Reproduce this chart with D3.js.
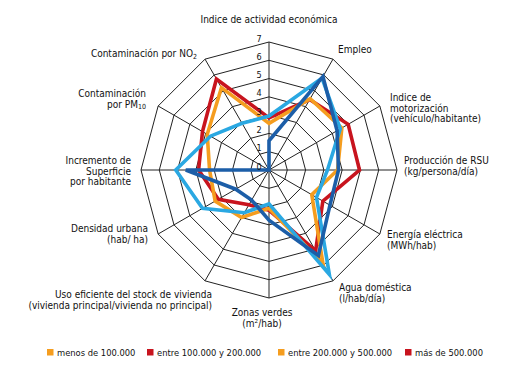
<!DOCTYPE html>
<html>
<head>
<meta charset="utf-8">
<script src="https://cdn.jsdelivr.net/npm/d3@7"></script>
<style>
  body { margin: 0; background: #fff; }
  svg text { font-family: "DejaVu Sans Condensed", "Liberation Sans", sans-serif; fill: #111; }
</style>
</head>
<body>
<div id="chart"></div>
<script>
// ejes del radar, en sentido horario desde arriba
const axisLabels = [
  ["Indice de actividad económica"],
  ["Empleo"],
  ["Indice de", "motorización", "(vehículo/habitante)"],
  ["Producción de RSU", "(kg/persona/día)"],
  ["Energía eléctrica", "(MWh/hab)"],
  ["Agua doméstica", "(l/hab/día)"],
  ["Zonas verdes", "(m²/hab)"],
  ["Uso eficiente del stock de vivienda", "(vivienda principal/vivienda no principal)"],
  ["Densidad urbana", "(hab/ ha)"],
  ["Incremento de", "Superficie", "por habitante"],
  ["Contaminación", "por PM|10"],
  ["Contaminación por NO|2"]
];

const ticks = [0, 1, 2, 3, 4, 5, 6, 7];

const seriesNames = ["menos de 100.000", "entre 100.000 y 200.000", "entre 200.000 y 500.000", "más de 500.000"];

// valores (escala 0-7)
const menos100 = [2.55, 4.5, 4.6, 3.75, 2.7, 5.9, 2.1, 3.0, 3.4, 3.25, 3.9, 5.2];
const entre100y200 = [2.85, 4.45, 5.0, 4.95, 3.4, 5.1, 2.2, 2.2, 3.2, 3.85, 4.2, 5.75];
const entre200y500 = [2.95, 5.8, 4.5, 3.2, 3.0, 6.6, 1.85, 2.7, 4.2, 5.1, 3.7, 2.95];
const mas500 = [1.6, 5.9, 4.3, 3.8, 3.85, 5.4, 2.75, 1.9, 2.1, 4.55, 0, 0];

const lineColors = ["#f59d1f", "#c8141e", "#2aa8e2", "#1c5ea8"];
// la leyenda original muestra estos colores
const legendColors = ["#f59d1f", "#c8141e", "#f59d1f", "#c8141e"];

const width = 517, height = 365;
const cx = 269, cy = 170, R = 128;

const svg = d3.select("#chart").append("svg")
  .attr("width", width)
  .attr("height", height);

const r = d3.scaleLinear().domain([0, 7]).range([0, R]);
const angle = d3.scaleLinear().domain([0, axisLabels.length]).range([0, 2 * Math.PI]);

const pt = (i, v) => [
  cx + r(v) * Math.sin(angle(i)),
  cy - r(v) * Math.cos(angle(i))
];

const g = svg.append("g");

// anillos (polígonos de 12 lados)
const ring = d3.line();
g.selectAll("path.ring")
  .data(ticks.slice(1))
  .join("path")
  .attr("class", "ring")
  .attr("d", t => ring(axisLabels.map((_, i) => pt(i, t))) + "Z")
  .attr("fill", "none")
  .attr("stroke", "#222")
  .attr("stroke-width", 1);

// radios
g.selectAll("line.spoke")
  .data(axisLabels)
  .join("line")
  .attr("class", "spoke")
  .attr("x1", cx).attr("y1", cy)
  .attr("x2", (d, i) => pt(i, 7)[0])
  .attr("y2", (d, i) => pt(i, 7)[1])
  .attr("stroke", "#222")
  .attr("stroke-width", 1);

// series
const allSeries = [entre100y200, menos100, entre200y500, mas500];
const seriesColor = [lineColors[1], lineColors[0], lineColors[2], lineColors[3]];
const radar = d3.line().curve(d3.curveLinearClosed);

g.selectAll("path.serie")
  .data(allSeries)
  .join("path")
  .attr("class", "serie")
  .attr("d", vals => radar(vals.map((v, i) => pt(i, v))))
  .attr("fill", "none")
  .attr("stroke", (d, k) => seriesColor[k])
  .attr("stroke-width", 3.6)
  .attr("stroke-linejoin", "miter");

// números de la escala
g.selectAll("text.tick")
  .data(ticks)
  .join("text")
  .attr("class", "tick")
  .attr("x", cx - 10)
  .attr("y", t => cy - r(t) - 0.5)
  .attr("text-anchor", "middle")
  .attr("font-size", 9)
  .text(t => t);

// etiquetas de los ejes: [x, y, anchor]
const labelLayout = [
  [269, 23, "middle"],
  [338, 53, "start"],
  [390, 101, "start"],
  [404, 164, "start"],
  [387, 238, "start"],
  [339, 291, "start"],
  [262, 316, "middle"],
  [212, 298, "end"],
  [148, 232, "end"],
  [131, 164, "end"],
  [146, 97, "end"],
  [197, 57, "end"]
];
const lineH = 10.6;

axisLabels.forEach((lines, i) => {
  const [x, y, anchor] = labelLayout[i];
  const t = svg.append("text")
    .attr("text-anchor", anchor)
    .attr("font-size", 10);
  lines.forEach((ln, j) => {
    const [main, sub] = ln.split("|");
    t.append("tspan")
      .attr("x", x)
      .attr("y", y + j * lineH)
      .text(main);
    if (sub) {
      t.append("tspan")
        .attr("font-size", 7)
        .attr("dy", 1.5)
        .text(sub);
    }
  });
});

// leyenda
const legendX = [47, 147, 278, 405];
const legend = svg.append("g");
seriesNames.forEach((name, k) => {
  legend.append("rect")
    .attr("x", legendX[k]).attr("y", 349)
    .attr("width", 6.5).attr("height", 6.5)
    .attr("fill", legendColors[k]);
  legend.append("text")
    .attr("x", legendX[k] + 10).attr("y", 355.5)
    .attr("font-size", 9.3)
    .text(name);
});
</script>
</body>
</html>
